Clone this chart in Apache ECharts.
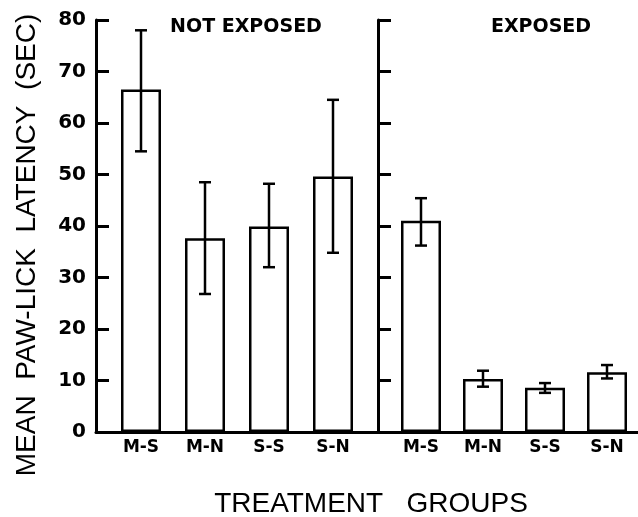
<!DOCTYPE html>
<html>
<head>
<meta charset="utf-8">
<script src="https://cdn.jsdelivr.net/npm/echarts@6/dist/echarts.min.js"></script>
<style>html,body{margin:0;padding:0;background:#fff}#chart{width:638px;height:517px}</style>
</head>
<body>
<div id="chart"></div>
<script>
const categories = ['M-S', 'M-N', 'S-S', 'S-N'];
const notExposedMean = [66.5, 37.6, 39.9, 49.6];
const notExposedLow  = [54.5, 26.8, 32.0, 34.8];
const notExposedHigh = [78.0, 48.5, 48.2, 64.5];
const exposedMean = [41.0, 10.3, 8.6, 11.6];
const exposedLow  = [36.2, 8.8, 7.6, 10.4];
const exposedHigh = [45.4, 11.9, 9.5, 13.0];
const yMin = 0, yMax = 80, yStep = 10;
const panelTitles = ['NOT EXPOSED', 'EXPOSED'];
const yName = 'MEAN  PAW-LICK  LATENCY  (SEC)';
const xName = 'TREATMENT   GROUPS';

const chart = echarts.init(document.getElementById('chart'));
const black = '#000';

function errData(lo, hi) { return categories.map((c, i) => [i, lo[i], hi[i]]); }
function errRender(params, api) {
  const x = api.value(0);
  const pHi = api.coord([x, api.value(2)]);
  const pLo = api.coord([x, api.value(1)]);
  const hw = 6;
  const st = { stroke: black, lineWidth: 2.5 };
  return { type: 'group', children: [
    { type: 'line', shape: { x1: pHi[0], y1: pHi[1], x2: pLo[0], y2: pLo[1] }, style: st },
    { type: 'line', shape: { x1: pHi[0] - hw, y1: pHi[1], x2: pHi[0] + hw, y2: pHi[1] }, style: st },
    { type: 'line', shape: { x1: pLo[0] - hw, y1: pLo[1], x2: pLo[0] + hw, y2: pLo[1] }, style: st }
  ]};
}
function yAxisCfg(gi, showLabels, offset) {
  return {
    type: 'value', gridIndex: gi, min: yMin, max: yMax, interval: yStep, offset: offset,
    axisLine: { show: true, lineStyle: { color: black, width: 3 } },
    axisTick: { show: true, inside: true, length: 13, lineStyle: { color: black, width: 3 } },
    axisLabel: { show: showLabels, margin: 10, color: black, fontFamily: 'DejaVu Sans', fontWeight: 'bold', fontSize: 20 },
    splitLine: { show: false }
  };
}
function xAxisCfg(gi) {
  return {
    type: 'category', gridIndex: gi, data: categories,
    axisLine: { show: false }, axisTick: { show: false },
    axisLabel: { margin: 7, color: black, fontFamily: 'DejaVu Sans', fontWeight: 'bold', fontSize: 17 }
  };
}
const barStyle = { color: '#fff', borderColor: black, borderWidth: 2.5 };

chart.setOption({
  backgroundColor: '#fff',
  animation: false,
  grid: [
    { left: 109, width: 256, top: 20, height: 412 },
    { left: 390, width: 258, top: 20, height: 412 },
    { left: 96, right: 0, top: 20, height: 412 }
  ],
  xAxis: [
    xAxisCfg(0), xAxisCfg(1),
    { type: 'value', gridIndex: 2, min: 0, max: 1,
      axisLine: { show: true, lineStyle: { color: black, width: 3 } },
      axisTick: { show: false }, axisLabel: { show: false }, splitLine: { show: false } }
  ],
  yAxis: [
    yAxisCfg(0, true, 13), yAxisCfg(1, false, 12),
    { type: 'value', gridIndex: 2, min: 0, max: 1, show: false }
  ],
  graphic: [
    { type: 'text', x: 246, y: 27, style: { text: panelTitles[0], fill: black, font: 'bold 19px "DejaVu Sans"', textAlign: 'center', textVerticalAlign: 'middle' } },
    { type: 'text', x: 541, y: 27, style: { text: panelTitles[1], fill: black, font: 'bold 19px "DejaVu Sans"', textAlign: 'center', textVerticalAlign: 'middle' } },
    { type: 'text', x: 27, y: 245, rotation: Math.PI / 2, style: { text: yName, fill: black, font: '28px "Liberation Sans"', textAlign: 'center', textVerticalAlign: 'middle' } },
    { type: 'text', x: 371, y: 504, style: { text: xName, fill: black, font: '28px "Liberation Sans"', textAlign: 'center', textVerticalAlign: 'middle' } }
  ],
  series: [
    { type: 'bar', xAxisIndex: 0, yAxisIndex: 0, data: notExposedMean, barWidth: 40, itemStyle: barStyle, z: 2 },
    { type: 'custom', xAxisIndex: 0, yAxisIndex: 0, data: errData(notExposedLow, notExposedHigh), renderItem: errRender, encode: { x: 0, y: [1, 2] }, z: 3 },
    { type: 'bar', xAxisIndex: 1, yAxisIndex: 1, data: exposedMean, barWidth: 40, itemStyle: barStyle, z: 2 },
    { type: 'custom', xAxisIndex: 1, yAxisIndex: 1, data: errData(exposedLow, exposedHigh), renderItem: errRender, encode: { x: 0, y: [1, 2] }, z: 3 }
  ]
});
</script>
</body>
</html>
